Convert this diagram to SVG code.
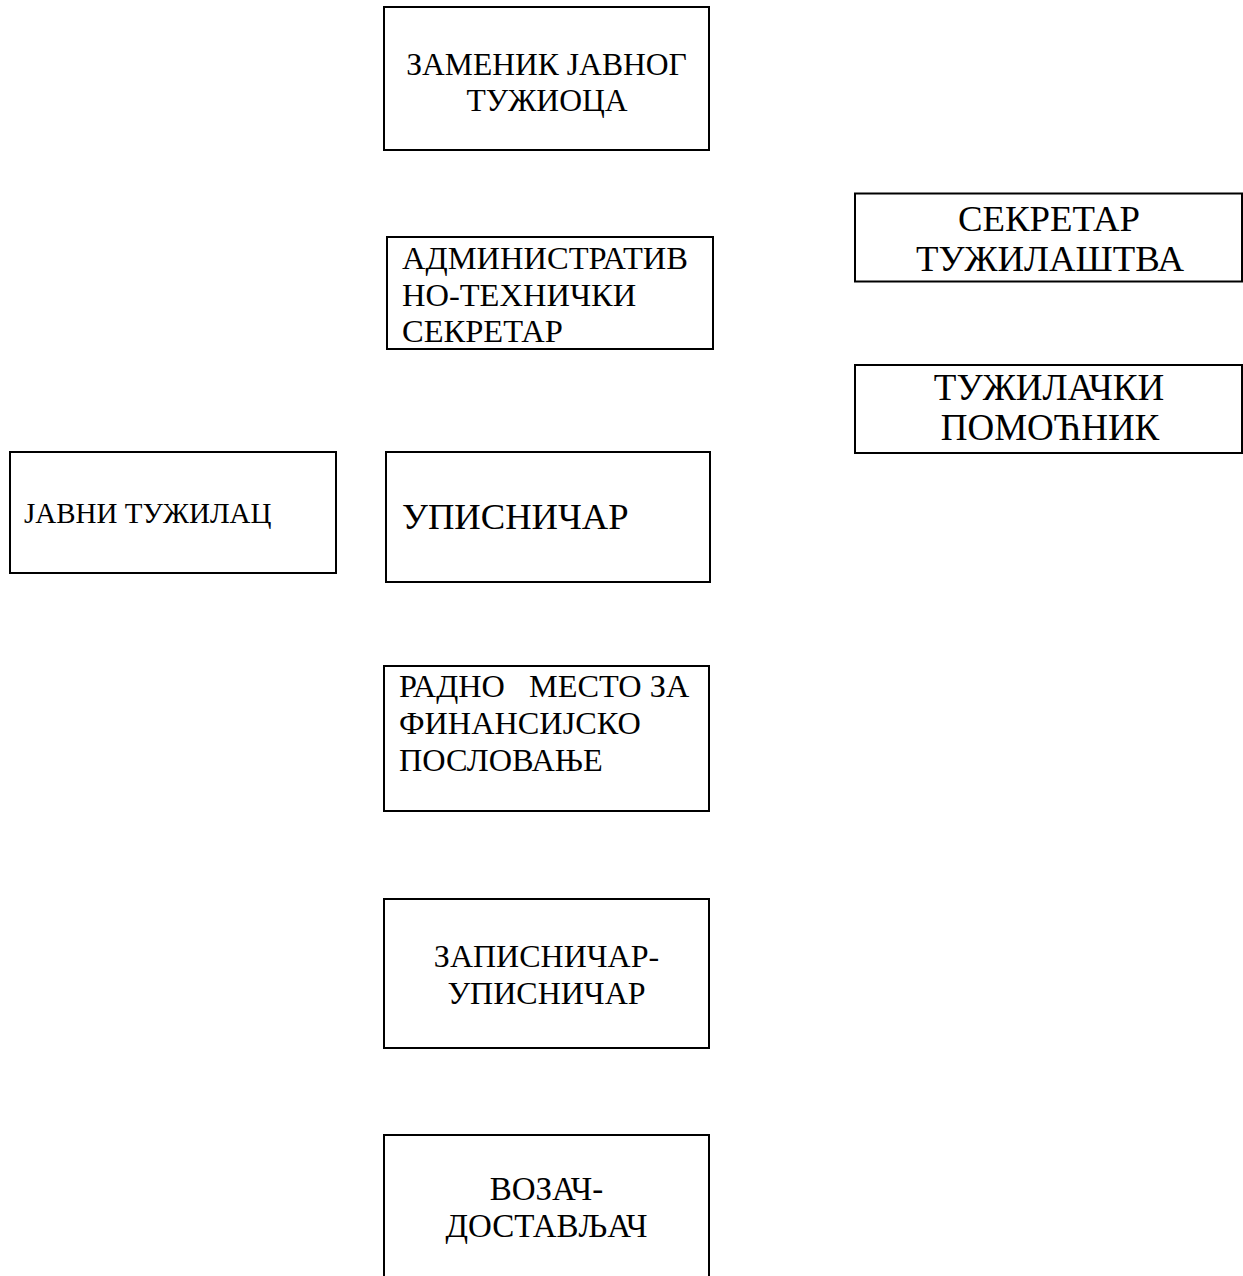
<svg xmlns="http://www.w3.org/2000/svg" width="1243" height="1276" viewBox="0 0 1243 1276">
<style>
  .box { fill: #ffffff; stroke: #000000; stroke-width: 2; }
  text { font-family: "Liberation Serif", "Times New Roman", serif; fill: #000000; white-space: pre; }
  .c { text-anchor: middle; }
</style>
<rect x="0" y="0" width="1243" height="1276" fill="#ffffff"/>
<g id="connectors"></g>
<g id="zamenik">
  <rect class="box" x="384" y="7" width="325" height="143"/>
  <text class="c" font-size="31.6" x="546.5" y="74.5">ЗАМЕНИК ЈАВНОГ</text>
  <text class="c" font-size="31.6" x="547" y="111">ТУЖИОЦА</text>
</g>
<g id="admin">
  <rect class="box" x="387" y="237" width="326" height="112"/>
  <text font-size="32.5" x="402" y="269">АДМИНИСТРАТИВ</text>
  <text font-size="32.5" x="402" y="305.5">НО-ТЕХНИЧКИ</text>
  <text font-size="32.5" x="402" y="342">СЕКРЕТАР</text>
</g>
<g id="sekretar">
  <rect class="box" x="855" y="193.5" width="387" height="88"/>
  <text class="c" font-size="36.8" x="1049" y="230.5">СЕКРЕТАР</text>
  <text class="c" font-size="36.8" x="1050" y="270.5">ТУЖИЛАШТВА</text>
</g>
<g id="pomocnik">
  <rect class="box" x="855" y="365" width="387" height="88"/>
  <text class="c" font-size="37" x="1049" y="400">ТУЖИЛАЧКИ</text>
  <text class="c" font-size="37" x="1050" y="440">ПОМОЋНИК</text>
</g>
<g id="javni">
  <rect class="box" x="10" y="452" width="326" height="121"/>
  <text font-size="29" x="24" y="523">ЈАВНИ ТУЖИЛАЦ</text>
</g>
<g id="upisnicar">
  <rect class="box" x="386" y="452" width="324" height="130"/>
  <text font-size="36.6" x="402" y="529">УПИСНИЧАР</text>
</g>
<g id="radno">
  <rect class="box" x="384" y="666" width="325" height="145"/>
  <text font-size="32.3" x="399" y="697">РАДНО   МЕСТО ЗА</text>
  <text font-size="32.3" x="399" y="734">ФИНАНСИЈСКО</text>
  <text font-size="32.3" x="399" y="771">ПОСЛОВАЊЕ</text>
</g>
<g id="zapisnicar">
  <rect class="box" x="384" y="899" width="325" height="149"/>
  <text class="c" font-size="32" x="546.5" y="967">ЗАПИСНИЧАР-</text>
  <text class="c" font-size="32" x="546.5" y="1003.5">УПИСНИЧАР</text>
</g>
<g id="vozac">
  <rect class="box" x="384" y="1135" width="325" height="160"/>
  <text class="c" font-size="33" x="546.5" y="1200">ВОЗАЧ-</text>
  <text class="c" font-size="33" x="546.5" y="1237">ДОСТАВЉАЧ</text>
</g>
</svg>
